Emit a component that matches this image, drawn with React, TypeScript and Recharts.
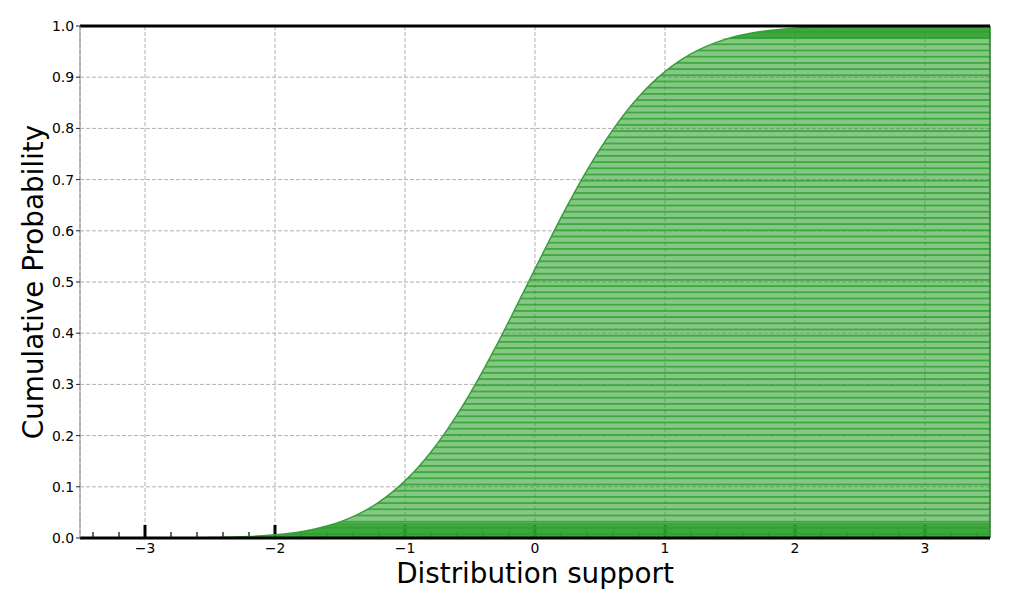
import { ComposedChart, Area, XAxis, YAxis, CartesianGrid, ReferenceLine } from "recharts";

// support points and cumulative probability
const xs = [
  -3.5, -3.4, -3.3, -3.2, -3.1, -3.0, -2.9, -2.8, -2.7, -2.6, -2.5, -2.4, -2.3, -2.2, -2.1,
  -2.0, -1.9, -1.8, -1.7, -1.6, -1.5, -1.4, -1.3, -1.2, -1.1, -1.0, -0.9, -0.8, -0.7, -0.6,
  -0.5, -0.4, -0.3, -0.2, -0.1, 0.0, 0.1, 0.2, 0.3, 0.4, 0.5, 0.6, 0.7, 0.8, 0.9,
  1.0, 1.1, 1.2, 1.3, 1.4, 1.5, 1.6, 1.7, 1.8, 1.9, 2.0, 2.1, 2.2, 2.3, 2.4,
  2.5, 2.6, 2.7, 2.8, 2.9, 3.0, 3.1, 3.2, 3.3, 3.4, 3.5,
];
const cdf = [
  0.000005, 0.000009, 0.000015, 0.000027, 0.000046, 0.000078, 0.00013, 0.00021, 0.00034, 0.00054,
  0.00084, 0.00129, 0.00196, 0.00293, 0.0043, 0.00621, 0.00885, 0.01242, 0.01721, 0.02346,
  0.03152, 0.04173, 0.05447, 0.07024, 0.08914, 0.11161, 0.13787, 0.16802, 0.20242, 0.2404,
  0.28197, 0.32672, 0.37411, 0.42387, 0.47448, 0.52552, 0.57613, 0.62589, 0.67328, 0.71803,
  0.7596, 0.79758, 0.83198, 0.86213, 0.88839, 0.91086, 0.92976, 0.94553, 0.95827, 0.96848,
  0.97654, 0.98279, 0.98758, 0.99115, 0.99379, 0.9957, 0.99707, 0.99804, 0.99871, 0.99916,
  0.99946, 0.99966, 0.99979, 0.99987, 0.99992, 0.99995, 0.99997, 0.99998, 0.99999, 1.0, 1.0,
];

const xTicks = [-3, -2, -1, 0, 1, 2, 3];
const xMinorTicks = [
  -3.4, -3.2, -2.8, -2.6, -2.4, -2.2, -1.8, -1.6, -1.4, -1.2, -0.8, -0.6, -0.4, -0.2,
  0.2, 0.4, 0.6, 0.8, 1.2, 1.4, 1.6, 1.8, 2.2, 2.4, 2.6, 2.8, 3.2, 3.4,
];
const yTicks = [0, 0.1, 0.2, 0.3, 0.4, 0.5, 0.6, 0.7, 0.8, 0.9, 1.0];

const LOW_BAND = 0.03;
const HIGH_BAND = 0.975;

const data = xs.map((x, i) => ({
  x,
  cdf: cdf[i],
  low: [0, Math.min(cdf[i], LOW_BAND)],
  high: [HIGH_BAND, Math.max(cdf[i], HIGH_BAND)],
}));

const FONT = "DejaVu Sans, sans-serif";
const GREEN = "#2ca02c";

const fmtX = (v: number) => (v < 0 ? "\u2212" + Math.abs(v) : String(v));

const tickMark = (len: number, width: number) => (props: any) => (
  <line x1={props.x1} x2={props.x1} y1={props.y1} y2={props.y1 - len} stroke="#000" strokeWidth={width} />
);

export default function App() {
  return (
    <div style={{ position: "absolute", left: 0, top: 0, width: 1010, height: 610, background: "#fff" }}>
      <ComposedChart width={1010} height={610} data={data} margin={{ top: 26, right: 20, bottom: 0, left: 0 }}>
        <defs>
          <pattern id="hatch" patternUnits="userSpaceOnUse" width="10" height="6.2">
            <rect width="10" height="6.2" fill={GREEN} fillOpacity={0.58} />
            <rect y="0" width="10" height="1.8" fill={GREEN} fillOpacity={0.78} />
          </pattern>
        </defs>
        <CartesianGrid stroke="#b0b0b0" strokeDasharray="4 2" />
        <XAxis
          dataKey="x"
          type="number"
          domain={[-3.5, 3.5]}
          ticks={xTicks}
          tickFormatter={fmtX}
          allowDataOverflow
          height={72}
          tickLine={false}
          tickSize={3}
          tickMargin={2}
          axisLine={{ stroke: "#000", strokeWidth: 3 }}
          tick={{ fill: "#000", fontSize: 13.9, fontFamily: FONT }}
          label={{
            content: ({ viewBox }: any) => (
              <text
                x={viewBox.x + viewBox.width / 2}
                y={viewBox.y + 45}
                textAnchor="middle"
                fontSize={27.8}
                fontFamily={FONT}
                fill="#000"
              >
                Distribution support
              </text>
            ),
          }}
        />
        <YAxis
          type="number"
          domain={[0, 1]}
          ticks={yTicks}
          tickFormatter={(v: number) => v.toFixed(1)}
          width={80}
          tickSize={4}
          tickMargin={2}
          tickLine={{ stroke: "#222" }}
          axisLine={{ stroke: "#8a8a8a" }}
          tick={{ fill: "#000", fontSize: 13.9, fontFamily: FONT }}
          label={{
            content: ({ viewBox }: any) => {
              const cx = viewBox.x + 33;
              const cy = viewBox.y + viewBox.height / 2;
              return (
                <text
                  x={cx}
                  y={cy}
                  transform={`rotate(-90, ${cx}, ${cy})`}
                  textAnchor="middle"
                  dominantBaseline="central"
                  fontSize={27.8}
                  fontFamily={FONT}
                  fill="#000"
                >
                  Cumulative Probability
                </text>
              );
            },
          }}
        />
        {xMinorTicks.map((t) => (
          <ReferenceLine
            key={"m" + t}
            zIndex={50}
            segment={[{ x: t, y: 0 }, { x: t, y: 0.01 }]}
            shape={tickMark(6, 1.2)}
          />
        ))}
        {xTicks.map((t) => (
          <ReferenceLine
            key={"M" + t}
            zIndex={50}
            segment={[{ x: t, y: 0 }, { x: t, y: 0.02 }]}
            shape={tickMark(13, 3)}
          />
        ))}
        <Area
          dataKey="cdf"
          type="monotone"
          baseValue={0}
          fill="url(#hatch)"
          fillOpacity={1}
          stroke="#3c9c3c"
          strokeWidth={1.5}
          isAnimationActive={false}
        />
        <Area dataKey="low" type="monotone" fill={GREEN} fillOpacity={0.8} stroke="none" isAnimationActive={false} />
        <Area dataKey="high" type="monotone" fill={GREEN} fillOpacity={0.8} stroke="none" isAnimationActive={false} />
        <ReferenceLine x={3.5} stroke="#2f7d2f" strokeWidth={1.5} />
        <ReferenceLine y={1} stroke="#000" strokeWidth={3} />
      </ComposedChart>
    </div>
  );
}
